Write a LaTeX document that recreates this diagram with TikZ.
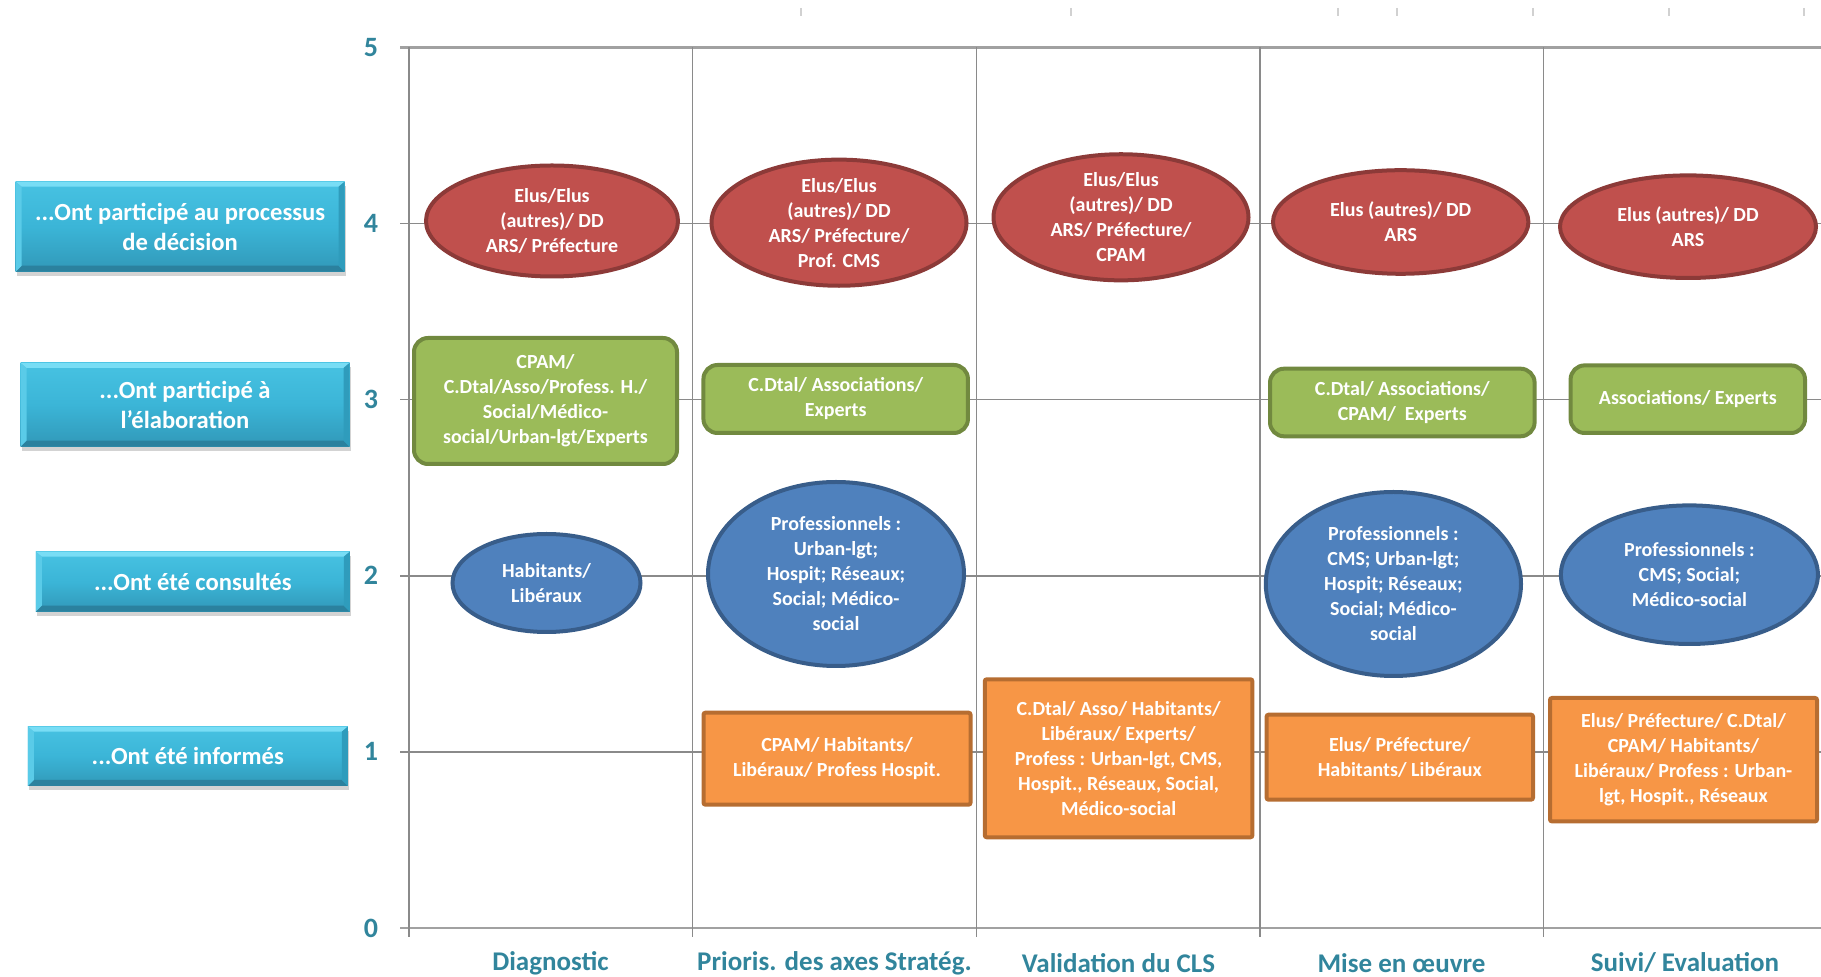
\documentclass[tikz,border=0pt]{standalone}
\usepackage{fontspec}
\setmainfont{Carlito}
\usetikzlibrary{shapes.geometric,shadows}
\definecolor{redF}{HTML}{C0504D}
\definecolor{redD}{HTML}{8C3A38}
\definecolor{grnF}{HTML}{9BBB59}
\definecolor{grnD}{HTML}{71893F}
\definecolor{bluF}{HTML}{4F81BD}
\definecolor{bluD}{HTML}{385D8A}
\definecolor{orgF}{HTML}{F79646}
\definecolor{orgD}{HTML}{B66D31}
\definecolor{axisC}{HTML}{31859C}
\definecolor{gridC}{HTML}{8A8A8A}
\definecolor{cyanT}{HTML}{47C2E2}
\definecolor{cyanM}{HTML}{3BB5D7}
\definecolor{cyanB}{HTML}{3198B8}
\definecolor{cyanL}{HTML}{78DDF5}
\definecolor{cyanS}{HTML}{5ACBE8}
\definecolor{cyanD}{HTML}{2B819E}
\definecolor{cyanR}{HTML}{2F9CBC}
\newcommand{\ndfont}{\fontsize{10}{12.5}\selectfont\bfseries}
\newcommand{\lbfont}{\fontsize{12.3}{15}\selectfont\bfseries}
\tikzset{
  shp/.style={inner sep=0pt, text=white, font=\ndfont, align=center, line width=2pt},
  redell/.style={shp, ellipse, draw=redD, fill=redF},
  bluell/.style={shp, ellipse, draw=bluD, fill=bluF},
  grnbox/.style={shp, rectangle, rounded corners=7pt, draw=grnD, fill=grnF},
  orgbox/.style={shp, rectangle, rounded corners=1pt, draw=orgD, fill=orgF},
  lblbox/.style={rectangle, inner sep=0pt, text=white, font=\lbfont, align=center,
    top color=cyanT, bottom color=cyanB, middle color=cyanM,
    drop shadow={opacity=0.35, shadow xshift=0.5pt, shadow yshift=-2pt},
    path picture={
      \fill[cyanL] (path picture bounding box.north west) -- (path picture bounding box.north east)
        -- ([xshift=-3pt,yshift=-2.5pt]path picture bounding box.north east)
        -- ([xshift=3pt,yshift=-2.5pt]path picture bounding box.north west) -- cycle;
      \fill[cyanD] (path picture bounding box.south west) -- (path picture bounding box.south east)
        -- ([xshift=-3pt,yshift=3pt]path picture bounding box.south east)
        -- ([xshift=3pt,yshift=3pt]path picture bounding box.south west) -- cycle;
      \fill[cyanS] (path picture bounding box.north west) -- ([xshift=3pt,yshift=-2.5pt]path picture bounding box.north west)
        -- ([xshift=3pt,yshift=3pt]path picture bounding box.south west) -- (path picture bounding box.south west) -- cycle;
      \fill[cyanR] (path picture bounding box.north east) -- ([xshift=-3pt,yshift=-2.5pt]path picture bounding box.north east)
        -- ([xshift=-3pt,yshift=3pt]path picture bounding box.south east) -- (path picture bounding box.south east) -- cycle;
    }},
  axnum/.style={text=axisC, font=\fontsize{14}{14}\selectfont\bfseries, inner sep=0pt},
  catlbl/.style={text=axisC, font=\fontsize{13.5}{14}\selectfont\bfseries, inner sep=0pt},
  grid/.style={draw=gridC, line width=0.75pt},
  gridb/.style={draw=gridC!80, line width=1.4pt},
}
\begin{document}
\begin{tikzpicture}[x=0.5pt,y=-0.5pt]
\useasboundingbox (0,0) rectangle (1821,977);
% faint ticks at top
\foreach \xx in {801,1071,1338,1397,1533,1669,1804}
  \draw[black!18, line width=0.6pt] (\xx,8) -- (\xx,16);
% horizontal grid
\foreach \k/\yy in {1/751.9,2/575.8,3/399.7,4/223.6}
  \draw[grid] (400,\yy) -- (1821,\yy);
\draw[gridb] (400,47.5) -- (1821,47.5);
\draw[gridb] (400,928) -- (1821,928);
% vertical grid
\foreach \xx in {409,692.5,976.5,1260,1543.5}
  \draw[grid] (\xx,47.5) -- (\xx,937);
% axis numbers
\foreach \k/\yy in {0/928,1/751.9,2/575.8,3/399.7,4/223.6,5/47.5}
  \node[axnum] (n\k) at (371,\yy) {\k};
% categories
\node[catlbl] (c1) at (550.5,963) {Diagnostic};
\node[catlbl] (c2) at (834.5,963) {Prioris. des axes Stratég.};
\node[catlbl] (c3) at (1118.5,963) {Validation du CLS};
\node[catlbl] (c4) at (1401.5,963) {Mise en œuvre};
\node[catlbl] (c5) at (1685,963) {Suivi/ Evaluation};
% left labels
\node[lblbox, minimum width=164.5pt, minimum height=45pt] (L1) at (180.1,226.7) {...Ont participé au processus\\de décision};
\node[lblbox, minimum width=164.5pt, minimum height=41.8pt] (L2) at (185,404.8) {...Ont participé à\\l'élaboration};
\node[lblbox, minimum width=157pt, minimum height=30pt] (L3) at (192.8,581.7) {...Ont été consultés};
\node[lblbox, minimum width=160pt, minimum height=29.7pt] (L4) at (187.8,756.3) {...Ont été informés};
% column 1
\node[redell, minimum width=126pt, minimum height=55.5pt] (r1) at (552,221) {Elus/Elus\\(autres)/ DD\\ARS/ Préfecture};
\node[grnbox, minimum width=131.5pt, minimum height=63pt] (g1) at (545.5,401) {CPAM/\\C.Dtal/Asso/Profess. H./\\Social/Médico-\\social/Urban-lgt/Experts};
\node[bluell, minimum width=94pt, minimum height=49pt] (b1) at (546.5,583) {Habitants/\\Libéraux};
% column 2
\node[redell, minimum width=127.5pt, minimum height=58pt] (r2) at (839,222.7) {Elus/Elus\\(autres)/ DD\\ARS/ Préfecture/\\Prof. CMS};
\node[grnbox, minimum width=132.25pt, minimum height=34pt] (g2) at (835.7,399) {C.Dtal/ Associations/\\Experts};
\node[bluell, minimum width=128pt, minimum height=92pt] (b2) at (836,574) {Professionnels :\\Urban-lgt;\\Hospit; Réseaux;\\Social; Médico-\\social};
\node[orgbox, minimum width=133.5pt, minimum height=46pt] (o2) at (837,758.7) {CPAM/ Habitants/\\Libéraux/ Profess Hospit.};
% column 3
\node[redell, minimum width=127.5pt, minimum height=57.3pt] (r3) at (1121,217.3) {Elus/Elus\\(autres)/ DD\\ARS/ Préfecture/\\CPAM};
\node[orgbox, minimum width=133.8pt, minimum height=79pt] (o3) at (1118.6,758.3) {C.Dtal/ Asso/ Habitants/\\Libéraux/ Experts/\\Profess : Urban-lgt, CMS,\\Hospit., Réseaux, Social,\\Médico-social};
% column 4
\node[redell, minimum width=127.7pt, minimum height=51.8pt] (r4) at (1400.7,222) {Elus (autres)/ DD\\ARS};
\node[grnbox, minimum width=132.3pt, minimum height=33.8pt] (g4) at (1402.3,402.5) {C.Dtal/ Associations/\\CPAM/\ \ Experts};
\node[bluell, minimum width=127.6pt, minimum height=92pt] (b4) at (1393.4,584) {Professionnels :\\CMS; Urban-lgt;\\Hospit; Réseaux;\\Social; Médico-\\social};
\node[orgbox, minimum width=133.2pt, minimum height=42.5pt] (o4) at (1399.8,757.2) {Elus/ Préfecture/\\Habitants/ Libéraux};
% column 5
\node[redell, minimum width=128pt, minimum height=51.3pt] (r5) at (1688,226.7) {Elus (autres)/ DD\\ARS};
\node[grnbox, minimum width=117.2pt, minimum height=33.8pt] (g5) at (1687.8,399.2) {Associations/ Experts};
\node[bluell, minimum width=128.5pt, minimum height=69.3pt] (b5) at (1689.4,574.7) {Professionnels :\\CMS; Social;\\Médico-social};
\node[orgbox, minimum width=133.5pt, minimum height=61.7pt] (o5) at (1683.5,759.7) {Elus/ Préfecture/ C.Dtal/\\CPAM/ Habitants/\\Libéraux/ Profess : Urban-\\lgt, Hospit., Réseaux};
\end{tikzpicture}
\end{document}
